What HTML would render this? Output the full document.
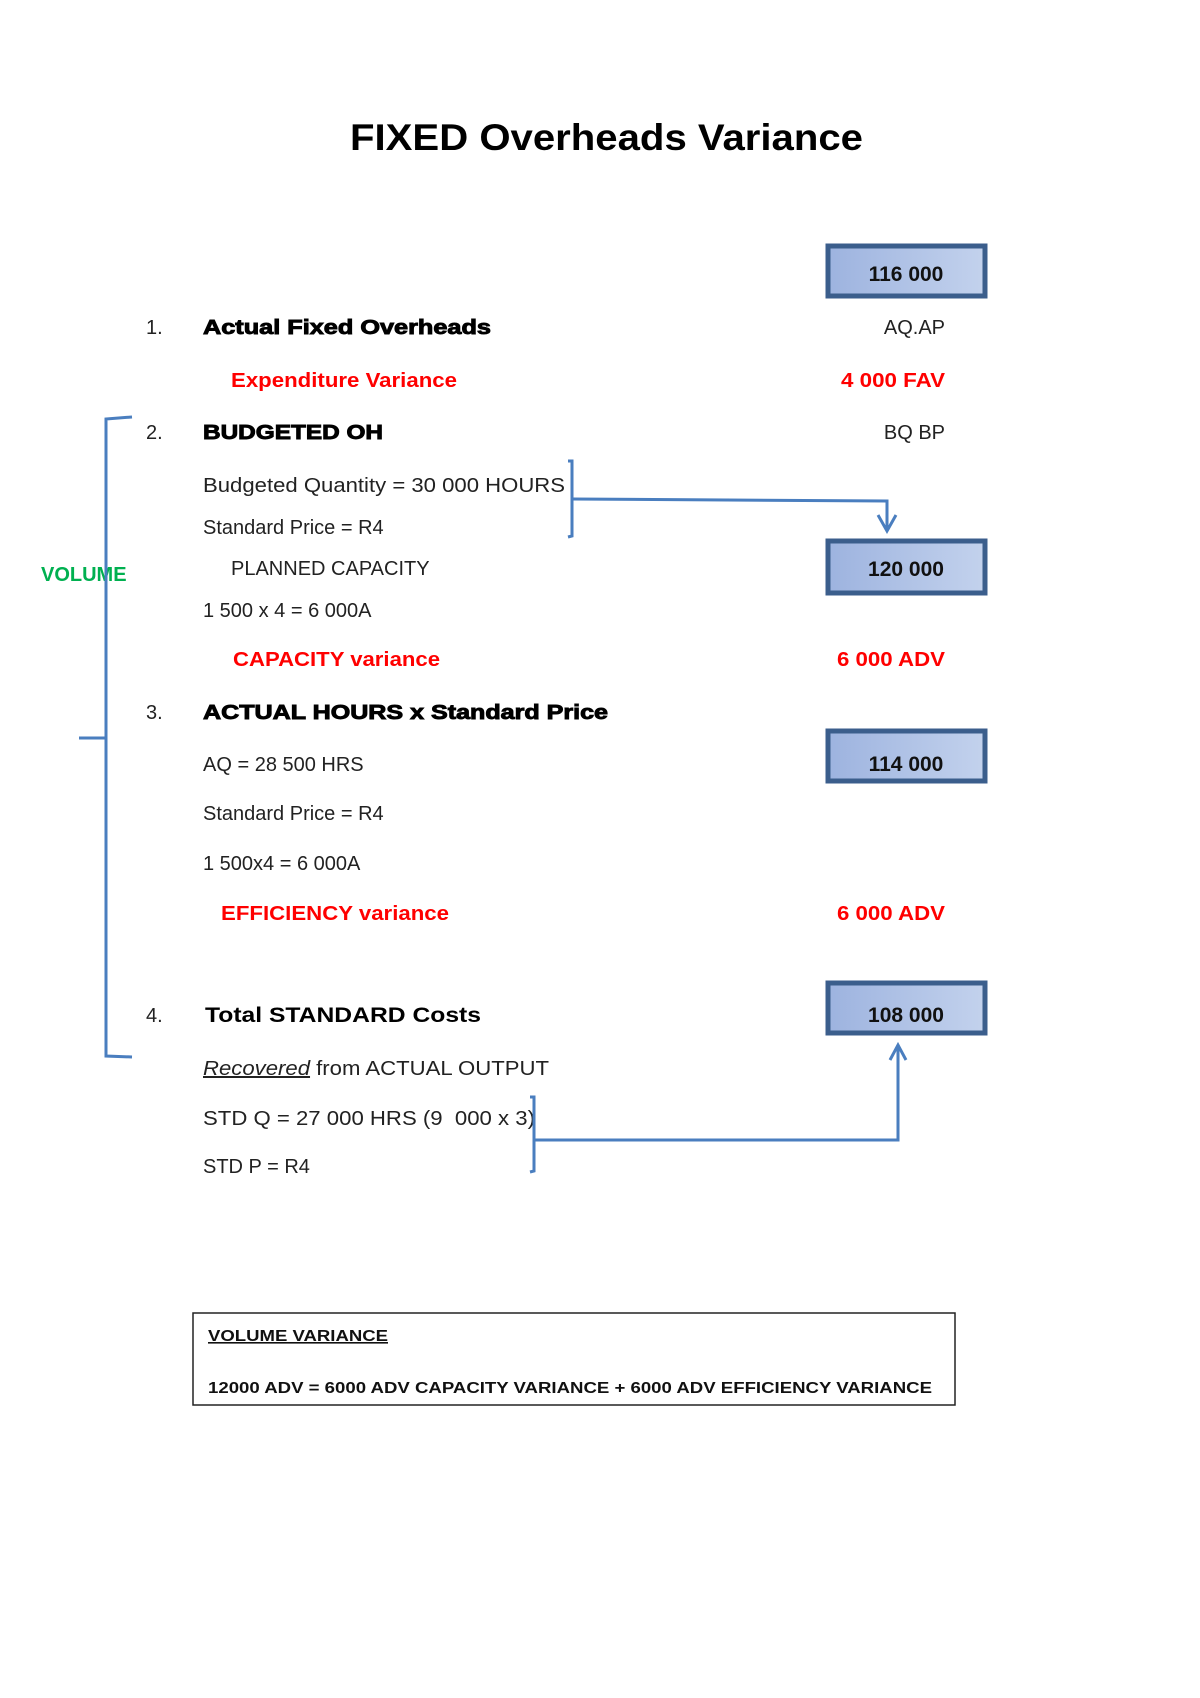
<!DOCTYPE html>
<html><head><meta charset="utf-8"><style>
html,body{margin:0;padding:0;background:#fff;}
svg{display:block;}
text{font-family:"Liberation Sans",Arial,sans-serif;}
.n{font-size:20px;fill:#222;}
.h{font-size:20px;font-weight:bold;fill:#000;stroke:#000;stroke-width:0.9px;}
.r{font-size:20px;font-weight:bold;fill:#ff0000;}
.b{font-size:21px;font-weight:bold;fill:#111;}
</style></head><body>
<svg width="1200" height="1698" viewBox="0 0 1200 1698" xmlns="http://www.w3.org/2000/svg">
<defs>
<linearGradient id="g" x1="0" y1="0" x2="1" y2="0">
<stop offset="0" stop-color="#9db3df"/><stop offset="1" stop-color="#c3d2ed"/>
</linearGradient>
</defs>
<text x="350" y="150" font-size="37" font-weight="bold" fill="#000" textLength="513" lengthAdjust="spacingAndGlyphs">FIXED Overheads Variance</text>

<g stroke="#3b5e8c" stroke-width="5" fill="url(#g)">
<rect x="828" y="246" width="157" height="50"/>
<rect x="828" y="541" width="157" height="52"/>
<rect x="828" y="731" width="157" height="50"/>
<rect x="828" y="983" width="157" height="50"/>
</g>
<text x="906" y="281" text-anchor="middle" class="b">116 000</text>
<text x="906" y="576" text-anchor="middle" class="b">120 000</text>
<text x="906" y="771" text-anchor="middle" class="b">114 000</text>
<text x="906" y="1022" text-anchor="middle" class="b">108 000</text>

<text x="146" y="334" class="n">1.</text>
<text x="203" y="334" class="h" textLength="288" lengthAdjust="spacingAndGlyphs">Actual Fixed Overheads</text>
<text x="945" y="334" text-anchor="end" class="n">AQ.AP</text>
<text x="231" y="387" class="r" textLength="226" lengthAdjust="spacingAndGlyphs">Expenditure Variance</text>
<text x="841" y="387" class="r" textLength="104" lengthAdjust="spacingAndGlyphs">4 000 FAV</text>

<text x="146" y="439" class="n">2.</text>
<text x="203" y="439" class="h" textLength="180" lengthAdjust="spacingAndGlyphs">BUDGETED OH</text>
<text x="945" y="439" text-anchor="end" class="n">BQ  BP</text>
<text x="203" y="492" class="n" textLength="362" lengthAdjust="spacingAndGlyphs">Budgeted Quantity = 30 000 HOURS</text>
<text x="203" y="534" class="n">Standard Price = R4</text>
<text x="231" y="575" class="n">PLANNED CAPACITY</text>
<text x="203" y="617" class="n">1 500 x 4 = 6 000A</text>
<text x="233" y="666" class="r" textLength="207" lengthAdjust="spacingAndGlyphs">CAPACITY variance</text>
<text x="837" y="666" class="r" textLength="108" lengthAdjust="spacingAndGlyphs">6 000 ADV</text>

<text x="146" y="719" class="n">3.</text>
<text x="203" y="719" class="h" textLength="405" lengthAdjust="spacingAndGlyphs">ACTUAL HOURS x Standard Price</text>
<text x="203" y="771" class="n">AQ = 28 500 HRS</text>
<text x="203" y="820" class="n">Standard Price = R4</text>
<text x="203" y="870" class="n">1 500x4 = 6 000A</text>
<text x="221" y="920" class="r" textLength="228" lengthAdjust="spacingAndGlyphs">EFFICIENCY variance</text>
<text x="837" y="920" class="r" textLength="108" lengthAdjust="spacingAndGlyphs">6 000 ADV</text>

<text x="146" y="1022" class="n">4.</text>
<text x="205" y="1022" font-size="21" font-weight="bold" fill="#000" textLength="276" lengthAdjust="spacingAndGlyphs">Total STANDARD Costs</text>
<text x="203" y="1075" class="n" textLength="346" lengthAdjust="spacingAndGlyphs"><tspan font-style="italic" text-decoration="underline">Recovered</tspan> from ACTUAL OUTPUT</text>
<text x="203" y="1125" class="n" textLength="332" lengthAdjust="spacingAndGlyphs" xml:space="preserve">STD Q = 27 000 HRS (9  000 x 3)</text>
<text x="203" y="1173" class="n">STD P = R4</text>

<text x="41" y="581" font-size="20" font-weight="bold" fill="#00b050">VOLUME</text>

<g stroke="#4a7ebf" stroke-width="3" fill="none">
<path d="M132,417 L106,419 L106,1056 L132,1057"/>
<path d="M79,738 L106,738"/>
<path d="M568,461 L572,461 L572,536 L568,537"/>
<path d="M572,499 L887,501 L887,528"/>
<path d="M878,515 L887,531 L896,515"/>
<path d="M530,1097 L534,1097 L534,1171 L530,1172"/>
<path d="M534,1140 L898,1140 L898,1047"/>
<path d="M890,1060 L898,1045 L906,1060"/>
</g>

<rect x="193" y="1313" width="762" height="92" fill="none" stroke="#222" stroke-width="1.5"/>
<text x="208" y="1341" font-size="16" font-weight="bold" fill="#111" text-decoration="underline" textLength="180" lengthAdjust="spacingAndGlyphs">VOLUME VARIANCE</text>
<text x="208" y="1393" font-size="16" font-weight="bold" fill="#111" textLength="724" lengthAdjust="spacingAndGlyphs">12000 ADV = 6000 ADV CAPACITY VARIANCE + 6000  ADV EFFICIENCY VARIANCE</text>
</svg>
</body></html>
